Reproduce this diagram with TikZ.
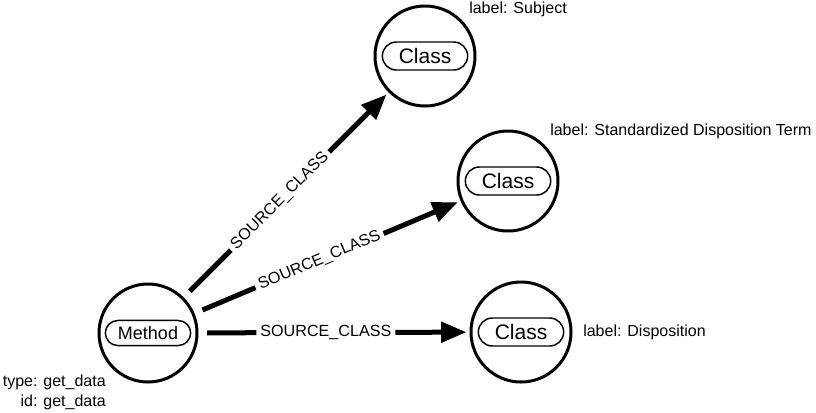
\documentclass[tikz,border=0pt]{standalone}
\usepackage{fontspec}
\setmainfont{Liberation Sans}
\usetikzlibrary{arrows.meta}
\tikzset{
  ring/.style={circle,draw,line width=2.25pt,minimum size=75pt,inner sep=0pt},
  pill/.style={draw,line width=1.1pt,minimum width=64pt,inner sep=0pt},
  classpill/.style={pill,rounded corners=10.5pt,minimum height=21pt,font=\fontsize{15.75}{18}\selectfont},
  methodpill/.style={pill,rounded corners=9.4pt,minimum height=18.8pt,font=\fontsize{13.5}{16}\selectfont},
  edge/.style={line width=3.75pt,-{Triangle[length=19pt,width=15pt]},shorten <=6.5pt,shorten >=2.25pt},
  elbl/.style={fill=white,inner xsep=3pt,inner ysep=1pt,sloped,pos=0.47,font=\fontsize{12.1}{14}\selectfont},
  info/.style={inner sep=0pt,font=\fontsize{12}{14}\selectfont}
}
\begin{document}
\begin{tikzpicture}[x=0.75pt,y=-0.75pt]
\useasboundingbox (0,0) rectangle (816,412);
% circles
\node[ring,minimum size=73.5pt] (m) at (148,333) {};
\node[ring] (c1) at (425,56) {};
\node[ring] (c2) at (508,181) {};
\node[ring] (c3) at (521,332) {};
% pills
\node[methodpill] (mp) at (m) {Method};
\node[classpill] (p1) at (c1) {Class};
\node[classpill] (p2) at (c2) {Class};
\node[classpill] (p3) at (c3) {Class};
% edges
\draw[edge] (m) -- node[elbl] (e1) {SOURCE\_CLASS} (c1);
\draw[edge] (m) -- node[elbl] (e2) {SOURCE\_CLASS} (c2);
\draw[edge] (m) -- node[elbl] (e3) {SOURCE\_CLASS} (c3);
% property labels
\node[info,anchor=west] (l1) at (469,9) {label: Subject};
\node[info,anchor=west] (l2) at (550,131) {label: Standardized Disposition Term};
\node[info,anchor=west] (l3) at (583,332) {label: Disposition};
\node[info,anchor=east] (t1) at (106,382) {type: get\_data};
\node[info,anchor=east] (t2) at (106,402) {id: get\_data};
\end{tikzpicture}
\end{document}
